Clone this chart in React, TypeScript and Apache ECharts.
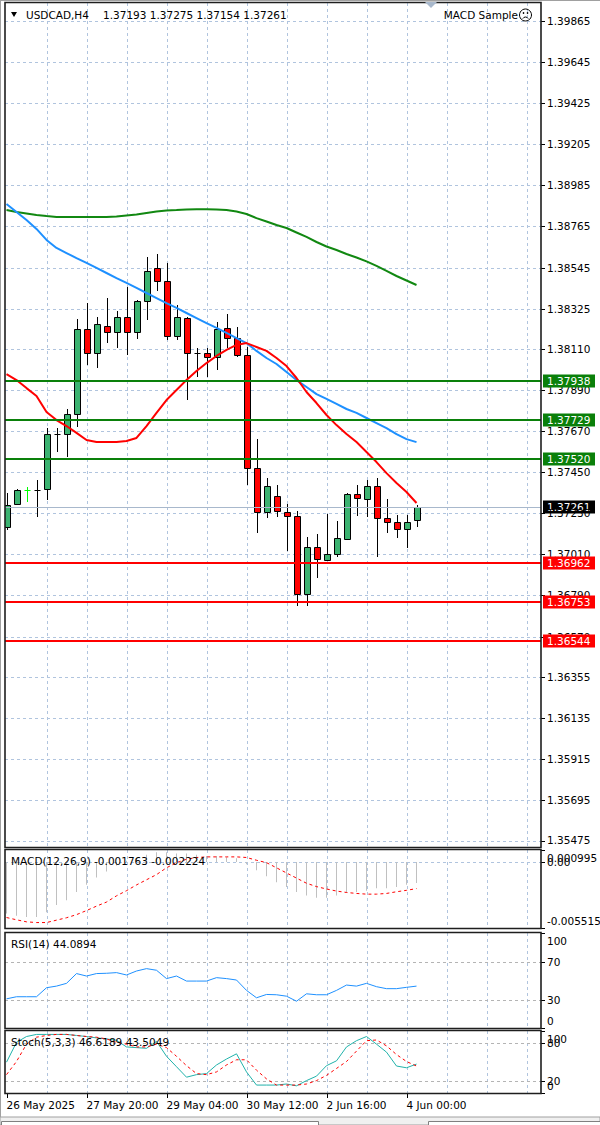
import React, { useEffect, useRef } from "react";
import * as echarts from "echarts";

// ---------- data ----------
const symbolName = "USDCAD,H4";
const lastOHLC = ["1.37193", "1.37275", "1.37154", "1.37261"];
const expertName = "MACD Sample";

const xTickIndex = [0, 8, 16, 24, 32, 40];
const xTickLabels = ["26 May 2025", "27 May 20:00", "29 May 04:00", "30 May 12:00", "2 Jun 16:00", "4 Jun 00:00"];

const priceTicks = [1.39865, 1.39645, 1.39425, 1.39205, 1.38985, 1.38765, 1.38545, 1.38325, 1.3811, 1.3789, 1.3767, 1.3745, 1.3723, 1.3701, 1.3679, 1.3657, 1.36355, 1.36135, 1.35915, 1.35695, 1.35475];
const priceTickLabels = ["1.39865", "1.39645", "1.39425", "1.39205", "1.38985", "1.38765", "1.38545", "1.38325", "1.38110", "1.37890", "1.37670", "1.37450", "1.37230", "1.37010", "1.36790", "1.36570", "1.36355", "1.36135", "1.35915", "1.35695", "1.35475"];

const opens = [1.37156, 1.37279, 1.37354, 1.37356, 1.3736, 1.37652, 1.37654, 1.37761, 1.38216, 1.38088, 1.38232, 1.382, 1.38281, 1.382, 1.38366, 1.38543, 1.38473, 1.38179, 1.38275, 1.3809, 1.38088, 1.38066, 1.38222, 1.38168, 1.38077, 1.37472, 1.37237, 1.37322, 1.37237, 1.37215, 1.36798, 1.37049, 1.3698, 1.37012, 1.37092, 1.37333, 1.37306, 1.37376, 1.37205, 1.37183, 1.37146, 1.37193];
const highs = [1.37338, 1.3736, 1.37371, 1.37408, 1.37686, 1.37686, 1.37788, 1.3827, 1.38355, 1.38281, 1.38382, 1.38313, 1.38441, 1.3837, 1.38602, 1.38618, 1.3857, 1.38345, 1.38278, 1.38115, 1.38115, 1.38254, 1.38297, 1.38227, 1.3812, 1.37627, 1.37419, 1.37381, 1.37279, 1.37242, 1.37103, 1.37119, 1.37226, 1.37189, 1.37338, 1.37381, 1.37408, 1.37419, 1.37306, 1.37221, 1.37221, 1.37275];
const lows = [1.3714, 1.37274, 1.3729, 1.3721, 1.37301, 1.37558, 1.37531, 1.37692, 1.38024, 1.38008, 1.38141, 1.38115, 1.38077, 1.38163, 1.38264, 1.3842, 1.38157, 1.38157, 1.37836, 1.37959, 1.37959, 1.37997, 1.38115, 1.38066, 1.37381, 1.37124, 1.37205, 1.3721, 1.37028, 1.36734, 1.36734, 1.36883, 1.36978, 1.36996, 1.3709, 1.37215, 1.3721, 1.36996, 1.37124, 1.37098, 1.37044, 1.37154];
const closes = [1.37274, 1.37354, 1.37354, 1.37354, 1.37654, 1.37654, 1.37761, 1.38216, 1.38088, 1.38243, 1.382, 1.38281, 1.382, 1.38366, 1.38527, 1.38473, 1.38179, 1.38281, 1.38088, 1.38088, 1.38066, 1.38216, 1.38168, 1.38077, 1.37472, 1.37237, 1.37376, 1.37242, 1.37215, 1.36798, 1.37049, 1.36985, 1.37012, 1.37098, 1.37333, 1.37312, 1.37376, 1.37205, 1.37183, 1.37146, 1.37183, 1.37261];

const maGreen = [1.38853, 1.38843, 1.38835, 1.38827, 1.38821, 1.38816, 1.38816, 1.38816, 1.38816, 1.38816, 1.38816, 1.38818, 1.38824, 1.38829, 1.38837, 1.38845, 1.38851, 1.38853, 1.38856, 1.38857, 1.38857, 1.38856, 1.38853, 1.38845, 1.38832, 1.3881, 1.38792, 1.38773, 1.38757, 1.38733, 1.38709, 1.38682, 1.38658, 1.38639, 1.38618, 1.38599, 1.38578, 1.38554, 1.38527, 1.385, 1.38476, 1.38452];
const maBlue = [1.38885, 1.38843, 1.388, 1.38752, 1.38693, 1.3865, 1.38623, 1.38596, 1.3857, 1.38543, 1.38516, 1.38489, 1.38463, 1.38436, 1.38409, 1.38382, 1.38355, 1.38329, 1.38302, 1.38275, 1.38248, 1.38222, 1.38195, 1.38168, 1.38141, 1.38099, 1.38061, 1.38029, 1.37986, 1.37943, 1.37906, 1.37868, 1.37842, 1.37815, 1.37788, 1.37767, 1.3774, 1.37713, 1.37686, 1.37654, 1.37627, 1.37611];
const maRed = [1.37975, 1.37943, 1.379, 1.37858, 1.37772, 1.37729, 1.37697, 1.3766, 1.37622, 1.37611, 1.37611, 1.37611, 1.37617, 1.37633, 1.37697, 1.37767, 1.37836, 1.3789, 1.37943, 1.37991, 1.38034, 1.38072, 1.38104, 1.38131, 1.38141, 1.3812, 1.38099, 1.38061, 1.38018, 1.37954, 1.37879, 1.3782, 1.37756, 1.37702, 1.37654, 1.37611, 1.37558, 1.37504, 1.37445, 1.37392, 1.37344, 1.37285];

const resistanceLevels = [1.37938, 1.37729, 1.3752];
const resistanceLabels = ["1.37938", "1.37729", "1.37520"];
const supportLevels = [1.36962, 1.36753, 1.36544];
const supportLabels = ["1.36962", "1.36753", "1.36544"];
const lastPrice = [1.37261];
const lastPriceLabel = ["1.37261"];

const macdMain = [-0.0043, -0.0045, -0.0046, -0.0046, -0.0042, -0.0036, -0.0032, -0.0025, -0.0019, -0.0013, -0.0008, -0.0003, 0.0001, 0.0003, 0.0006, 0.0008, 0.0008, 0.0007, 0.0007, 0.0006, 0.0005, 0.0005, 0.0004, 0.0003, -0.0002, -0.0007, -0.0012, -0.0017, -0.0021, -0.0025, -0.0028, -0.003, -0.003, -0.0028, -0.0026, -0.0025, -0.0024, -0.0022, -0.0022, -0.0021, -0.0019, -0.001763];
const macdSignal = [-0.00464, -0.00483, -0.005, -0.00506, -0.00506, -0.00486, -0.00466, -0.0044, -0.00406, -0.00369, -0.00335, -0.00283, -0.0024, -0.00192, -0.00149, -0.00106, -0.00049, -0.00006, 0.00022, 0.00037, 0.00042, 0.00042, 0.00042, 0.00042, 0.00037, 0.00014, -0.00006, -0.00049, -0.00092, -0.00135, -0.00178, -0.00206, -0.00226, -0.00243, -0.00255, -0.00263, -0.00269, -0.00269, -0.00263, -0.00249, -0.00237, -0.002224];
const macdTicks = [0.000995, 0, -0.005515];
const macdTickLabels = ["0.000995", "0.00", "-0.005515"];
const macdLevels = [0];
const macdTitle = "MACD(12,26,9) -0.001763 -0.002224";

const rsiValues = [30.7, 32.9, 32.9, 32.9, 42.4, 44.1, 47.0, 57.3, 54.7, 57.3, 57.6, 58.3, 55.8, 60.0, 62.5, 60.8, 52.0, 54.7, 49.4, 49.4, 49.4, 53.0, 52.0, 50.5, 39.6, 31.8, 35.3, 35.0, 33.5, 28.2, 36.0, 35.0, 35.0, 39.6, 45.2, 44.1, 47.0, 43.5, 41.4, 41.4, 42.8, 44.09];
const rsiTicks = [100, 70, 30, 0];
const rsiTickLabels = ["100", "70", "30", "0"];
const rsiLevels = [70, 30];
const rsiTitle = "RSI(14) 44.0894";

const stochMain = [49.7, 81.7, 91.1, 94.5, 94.5, 94.5, 94.5, 92.8, 91.1, 88.9, 87.2, 85.0, 74.3, 73.2, 72.1, 83.3, 59.2, 42.4, 25.5, 29.6, 31.3, 45.2, 54.8, 63.2, 34.0, 12.8, 12.8, 12.8, 14.5, 11.6, 20.0, 27.2, 44.1, 51.9, 74.3, 84.4, 91.1, 78.8, 65.9, 43.5, 40.7, 46.62];
const stochSignal = [29.6, 50.8, 78.8, 90.0, 92.8, 94.5, 94.5, 92.8, 91.1, 90.0, 87.2, 81.7, 78.8, 74.3, 74.3, 78.8, 73.2, 59.2, 44.1, 31.3, 29.6, 34.0, 45.2, 53.6, 53.6, 36.8, 22.8, 12.8, 12.8, 12.8, 14.5, 20.0, 28.4, 39.6, 50.8, 67.6, 84.4, 85.5, 76.0, 62.0, 50.8, 43.5];
const stochTicks = [100, 80, 20, 0];
const stochTickLabels = ["100", "80", "20", "0"];
const stochLevels = [80, 20];
const stochTitle = "Stoch(5,3,3) 46.6189 43.5049";

// ---------- style ----------
const FONT = '"DejaVu Sans", sans-serif';
const FS = 10.5;
const GRID_COLOR = "#b0c4de";
const LEVEL_COLOR = "#b4b4b4";
const UP = "#3cb371";
const DOWN = "#ff0000";
const GREEN_LINE = "#0a800a";
const RED_LINE = "#ff0000";
const SLOTS_MIN = -0.15;
const SLOTS_MAX = 53.45;

const panels = [
  { top: 3, height: 844 },
  { top: 850, height: 78 },
  { top: 933, height: 95 },
  { top: 1031, height: 62 },
];
const LEFT = 5;
const WIDTH = 536;

function pairs(arr: number[]) {
  return arr.map((v, i) => [i, v]);
}

function vGridSeries(gi: number) {
  const cols: number[][] = [];
  for (let i = 4; i < SLOTS_MAX; i += 4) cols.push([i, 0]);
  return {
    type: "custom",
    xAxisIndex: gi,
    yAxisIndex: gi,
    silent: true,
    z: 1,
    data: cols,
    renderItem: (params: any, api: any) => {
      const cs = params.coordSys;
      const x = Math.round(api.coord([api.value(0), 0])[0]) + 0.5;
      return {
        type: "line",
        shape: { x1: x, y1: cs.y, x2: x, y2: cs.y + cs.height },
        style: { stroke: GRID_COLOR, lineWidth: 1, lineDash: [3, 3] },
      };
    },
  };
}

function hLineSeries(gi: number, values: number[], color: string) {
  return {
    type: "custom",
    xAxisIndex: gi,
    yAxisIndex: gi,
    silent: true,
    z: 1,
    data: values.map((v) => [0, v]),
    renderItem: (params: any, api: any) => {
      const cs = params.coordSys;
      const y = Math.round(api.coord([0, api.value(1)])[1]) + 0.5;
      return {
        type: "line",
        shape: { x1: cs.x, y1: y, x2: cs.x + cs.width, y2: y },
        style: { stroke: color, lineWidth: 1, lineDash: [3, 3] },
      };
    },
  };
}

function axisLabelSeries(gi: number, ticks: number[], labels: string[]) {
  return {
    type: "custom",
    xAxisIndex: gi,
    yAxisIndex: gi,
    silent: true,
    z: 6,
    data: ticks.map((v) => [0, v]),
    renderItem: (params: any, api: any) => {
      const cs = params.coordSys;
      const yRaw = api.coord([0, api.value(1)])[1];
      const y = Math.round(yRaw) + 0.5;
      const right = cs.x + cs.width;
      const ly = Math.min(Math.max(yRaw, cs.y + 8), cs.y + cs.height - 7);
      return {
        type: "group",
        children: [
          { type: "line", shape: { x1: right, y1: y, x2: right + 4, y2: y }, style: { stroke: "#000", lineWidth: 1 } },
          {
            type: "text",
            x: right + 6,
            y: ly,
            style: { text: labels[params.dataIndex], fill: "#000", fontSize: FS, fontFamily: FONT, align: "left", verticalAlign: "middle" },
          },
        ],
      };
    },
  };
}

function levelSeries(values: number[], labels: string[], color: string, lineW: number, boxColor: string, z: number) {
  return {
    type: "custom",
    xAxisIndex: 0,
    yAxisIndex: 0,
    silent: true,
    z,
    data: values.map((v) => [0, v]),
    renderItem: (params: any, api: any) => {
      const cs = params.coordSys;
      const yRaw = api.coord([0, api.value(1)])[1];
      const y = lineW % 2 === 1 ? Math.round(yRaw) + 0.5 : Math.round(yRaw);
      const right = cs.x + cs.width;
      return {
        type: "group",
        children: [
          { type: "line", shape: { x1: cs.x, y1: y, x2: right, y2: y }, style: { stroke: color, lineWidth: lineW } },
          { type: "rect", shape: { x: right + 2, y: Math.round(yRaw) - 6.5, width: 52, height: 13 }, style: { fill: boxColor } },
          {
            type: "text",
            x: right + 6,
            y: Math.round(yRaw),
            style: { text: labels[params.dataIndex], fill: "#fff", fontSize: FS, fontFamily: FONT, align: "left", verticalAlign: "middle" },
          },
        ],
      };
    },
  };
}

function candleSeries() {
  return {
    type: "custom",
    xAxisIndex: 0,
    yAxisIndex: 0,
    silent: true,
    clip: true,
    z: 3,
    encode: { x: 0, y: [1, 2, 3, 4] },
    data: opens.map((o, i) => [i, o, highs[i], lows[i], closes[i]]),
    renderItem: (params: any, api: any) => {
      const i = api.value(0);
      const o = api.value(1);
      const h = api.value(2);
      const l = api.value(3);
      const c = api.value(4);
      const x = Math.round(api.coord([i, o])[0]) + 0.5;
      const yO = api.coord([i, o])[1];
      const yC = api.coord([i, c])[1];
      const yH = api.coord([i, h])[1];
      const yL = api.coord([i, l])[1];
      const exactDoji = o === c;
      const wick = exactDoji ? "#00ff00" : "#000";
      const children: any[] = [
        { type: "line", shape: { x1: x, y1: Math.round(yH), x2: x, y2: Math.round(yL) }, style: { stroke: wick, lineWidth: 1 } },
      ];
      const top = Math.round(Math.min(yO, yC));
      const bot = Math.round(Math.max(yO, yC));
      if (bot - top < 2) {
        const yy = Math.round((yO + yC) / 2) + 0.5;
        children.push({ type: "line", shape: { x1: x - 3, y1: yy, x2: x + 3, y2: yy }, style: { stroke: wick, lineWidth: 1 } });
      } else {
        children.push({
          type: "rect",
          shape: { x: x - 3, y: top + 0.5, width: 6, height: bot - top },
          style: { fill: c > o ? UP : DOWN, stroke: "#000", lineWidth: 1 },
        });
      }
      return { type: "group", children };
    },
  };
}

function xLabelSeries() {
  return {
    type: "custom",
    xAxisIndex: 3,
    yAxisIndex: 3,
    silent: true,
    z: 6,
    data: xTickIndex.map((i) => [i, 0]),
    renderItem: (params: any, api: any) => {
      const cs = params.coordSys;
      const x = Math.round(api.coord([api.value(0), 0])[0]) + 0.5;
      const bottom = cs.y + cs.height;
      return {
        type: "group",
        children: [
          { type: "line", shape: { x1: x, y1: bottom, x2: x, y2: bottom + 5 }, style: { stroke: "#000", lineWidth: 1 } },
          {
            type: "text",
            x: x - 1,
            y: bottom + 12,
            style: { text: xTickLabels[params.dataIndex], fill: "#000", fontSize: FS, fontFamily: FONT, align: "left", verticalAlign: "middle" },
          },
        ],
      };
    },
  };
}

function lineSeries(gi: number, values: number[], color: string, width: number, dash?: number[], z = 4) {
  return {
    type: "line",
    xAxisIndex: gi,
    yAxisIndex: gi,
    data: pairs(values),
    symbol: "none",
    showSymbol: false,
    silent: true,
    z,
    lineStyle: { color, width, type: dash ? dash : "solid" },
  };
}

function txt(text: string, x: number, y: number, extra: any = {}) {
  return {
    type: "text",
    x,
    y,
    z: 20,
    silent: true,
    style: { text, fill: "#000", fontSize: FS, fontFamily: FONT, align: "left", verticalAlign: "middle", ...extra },
  };
}

export default function App() {
  const ref = useRef<HTMLDivElement>(null);
  useEffect(() => {
    if (!ref.current) return;
    const chart = echarts.init(ref.current, undefined, { renderer: "svg" });
    const frames = panels.map((p) => ({
      type: "rect",
      z: 15,
      silent: true,
      shape: { x: LEFT, y: p.top - 0.5, width: WIDTH, height: p.height + 1 },
      style: { fill: "none", stroke: "#1e1e1e", lineWidth: 1.6 },
    }));
    const option: any = {
      animation: false,
      backgroundColor: "#ffffff",
      grid: panels.map((p) => ({ left: LEFT, top: p.top, width: WIDTH, height: p.height })),
      xAxis: panels.map((_, gi) => ({ type: "value", gridIndex: gi, min: SLOTS_MIN, max: SLOTS_MAX, show: false })),
      yAxis: [
        { type: "value", gridIndex: 0, min: 1.354436, max: 1.399613, show: false },
        { type: "value", gridIndex: 1, min: -0.005515, max: 0.000995, show: false },
        { type: "value", gridIndex: 2, min: 0, max: 100, show: false },
        { type: "value", gridIndex: 3, min: 0, max: 100, show: false },
      ],
      series: [
        // main
        vGridSeries(0),
        hLineSeries(0, priceTicks, GRID_COLOR),
        axisLabelSeries(0, priceTicks, priceTickLabels),
        levelSeries(lastPrice, lastPriceLabel, "#a8b8cc", 1, "#000000", 5),
        candleSeries(),
        lineSeries(0, maGreen, "#118811", 2),
        lineSeries(0, maBlue, "#1e90ff", 2),
        lineSeries(0, maRed, "#ff0000", 2),
        levelSeries(resistanceLevels, resistanceLabels, GREEN_LINE, 2, GREEN_LINE, 7),
        levelSeries(supportLevels, supportLabels, RED_LINE, 2, RED_LINE, 7),
        // macd
        vGridSeries(1),
        hLineSeries(1, macdLevels, GRID_COLOR),
        {
          type: "bar",
          xAxisIndex: 1,
          yAxisIndex: 1,
          data: pairs(macdMain),
          barWidth: 1,
          silent: true,
          z: 3,
          itemStyle: { color: "#c0c0c0" },
        },
        lineSeries(1, macdSignal, "#ff0000", 1, [3, 3]),
        axisLabelSeries(1, macdTicks, macdTickLabels),
        // rsi
        vGridSeries(2),
        hLineSeries(2, rsiLevels, LEVEL_COLOR),
        lineSeries(2, rsiValues, "#1e90ff", 1),
        axisLabelSeries(2, rsiTicks, rsiTickLabels),
        // stoch
        vGridSeries(3),
        hLineSeries(3, stochLevels, LEVEL_COLOR),
        lineSeries(3, stochMain, "#20b2aa", 1),
        lineSeries(3, stochSignal, "#ff0000", 1, [3, 3]),
        axisLabelSeries(3, stochTicks, stochTickLabels),
        xLabelSeries(),
      ],
      graphic: {
        elements: [
          { type: "line", z: 15, silent: true, shape: { x1: 0.5, y1: 0, x2: 0.5, y2: 1118 }, style: { stroke: "#a0a0a0", lineWidth: 1 } },
          { type: "line", z: 15, silent: true, shape: { x1: 0, y1: 0.5, x2: 600, y2: 0.5 }, style: { stroke: "#a0a0a0", lineWidth: 1 } },
          ...frames,
          // shift marker
          { type: "polygon", z: 16, silent: true, shape: { points: [[425, 2], [437, 2], [431, 8]] }, style: { fill: "#a8b8cc" } },
          // header
          { type: "polygon", z: 20, silent: true, shape: { points: [[11, 12], [17, 12], [14, 17]] }, style: { fill: "#000" } },
          txt(symbolName, 26, 15),
          txt(lastOHLC.join(" "), 103, 15),
          txt(expertName, 518, 15, { align: "right" }),
          { type: "circle", z: 20, silent: true, shape: { cx: 525.5, cy: 15, r: 6 }, style: { fill: "none", stroke: "#000", lineWidth: 1 } },
          { type: "circle", z: 20, silent: true, shape: { cx: 523.5, cy: 13, r: 0.8 }, style: { fill: "#000" } },
          { type: "circle", z: 20, silent: true, shape: { cx: 527.5, cy: 13, r: 0.8 }, style: { fill: "#000" } },
          { type: "arc", z: 20, silent: true, shape: { cx: 525.5, cy: 20, r: 3, startAngle: Math.PI * 1.15, endAngle: Math.PI * 1.85 }, style: { fill: "none", stroke: "#000", lineWidth: 1 } },
          // panel titles
          txt(macdTitle, 11, 861),
          txt(rsiTitle, 11, 944),
          txt(stochTitle, 11, 1042),
          // bottom strip
          { type: "rect", z: 15, silent: true, shape: { x: 0, y: 1117, width: 600, height: 8 }, style: { fill: "#f0f0f0", stroke: "#a0a0a0", lineWidth: 1 } },
          { type: "rect", z: 16, silent: true, shape: { x: 1.5, y: 1121.5, width: 317, height: 10 }, style: { fill: "#ffffff", stroke: "#808080", lineWidth: 1 } },
          { type: "rect", z: 16, silent: true, shape: { x: 428.5, y: 1121.5, width: 175, height: 10 }, style: { fill: "#ffffff", stroke: "#808080", lineWidth: 1 } },
        ],
      },
    };
    chart.setOption(option);
    return () => chart.dispose();
  }, []);
  return <div ref={ref} style={{ position: "absolute", left: 0, top: 0, width: 600, height: 1125 }} />;
}
